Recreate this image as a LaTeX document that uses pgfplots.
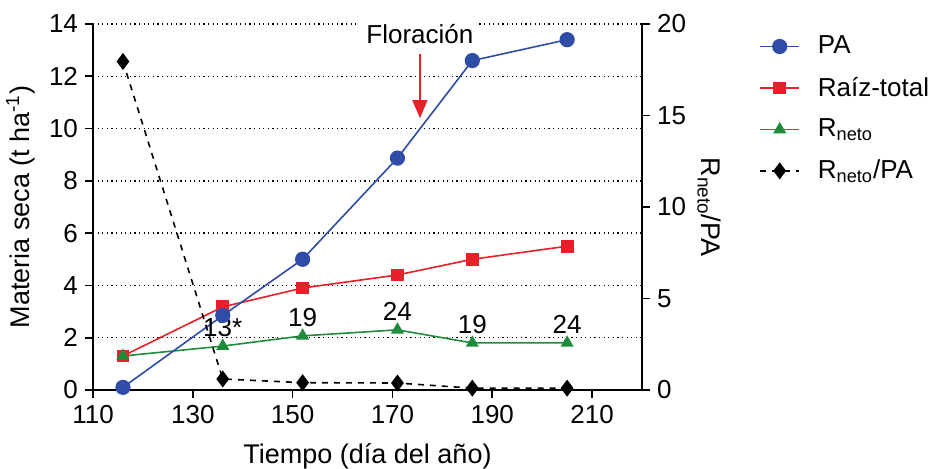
\documentclass[border=0pt]{standalone}
\usepackage{fontspec}
\setmainfont{Liberation Sans}
\usepackage{pgfplots}
\pgfplotsset{compat=1.18}
\usetikzlibrary{arrows.meta}
\definecolor{cPA}{HTML}{2F4DA6}
\definecolor{cRaiz}{HTML}{E8202A}
\definecolor{cRn}{HTML}{1F8C3B}

\begin{document}
\begin{tikzpicture}[font=\fontsize{13}{15}\selectfont]
\useasboundingbox (-46.5pt,-39.5pt) rectangle (420.5pt,195pt);
\pgfplotsset{
  every axis/.append style={
    at={(0,0)}, anchor=south west,
    width=274.5pt, height=183pt, scale only axis,
    xmin=110, xmax=220,
    tick align=outside, major tick length=4pt,
    tick style={black, line width=0.8pt},
    axis line style={line width=0.8pt},
    /pgf/number format/assume math mode=true,
    tick label style={font=\fontsize{13}{15}\selectfont},
    label style={font=\fontsize{13.5}{16}\selectfont},
  }
}
\begin{axis}[
  axis x line*=bottom, axis y line*=left,
  ymin=0, ymax=14, ytick={0,2,...,14},
  xtick={110,130,...,210},
  ymajorgrids,
  grid style={black, line width=0.75pt, dash pattern=on 0.6pt off 1.7pt},
  xlabel={Tiempo (día del año)},
  xlabel style={yshift=-3pt},
  ylabel={Materia seca (t ha\textsuperscript{-1})},
  clip=false,
]
% Floracion
\node[fill=white, inner sep=3pt] at (axis cs:175.5,13.62) {Floración};
\draw[cRaiz, line width=0.8pt, -{Triangle[width=7.5pt, length=9pt]}]
  (axis cs:175.5,12.85) -- (axis cs:175.5,10.4);

\addplot[cRaiz, line width=0.8pt, mark=square*, mark size=2.8pt] coordinates {
  (116,1.3) (136,3.18) (152,3.9) (171,4.4) (186,5.0) (205,5.5)
};
\addplot[cRn, line width=0.8pt, mark=triangle*, mark size=3pt,
  nodes near coords, point meta=explicit symbolic,
  nodes near coords style={black, font=\fontsize{13}{15}\selectfont, anchor=south, yshift=1pt}]
  coordinates {
  (116,1.3) [] (136,1.68) [13*] (152,2.07) [19] (171,2.3) [24] (186,1.8) [19] (205,1.8) [24]
};
\addplot[cPA, line width=0.8pt, mark=*, mark size=3.4pt] coordinates {
  (116,0.1) (136,2.85) (152,5.0) (171,8.87) (186,12.6) (205,13.4)
};
\end{axis}

\begin{axis}[
  axis y line*=right, axis x line=none,
  ymin=0, ymax=20, ytick={0,5,...,20},
  clip=false,
  legend style={draw=none, fill=none, at={(1.2025,0.99)}, anchor=north west,
    font=\fontsize{13}{15}\selectfont, row sep=6pt, column sep=7pt},
  legend cell align=left,
  legend image code/.code={
    \draw[mark repeat=2, mark phase=2, #1] plot coordinates {(0cm,0cm) (0.34cm,0cm) (0.68cm,0cm)};
  },
]
\node[rotate=-90, font=\fontsize{13.5}{16}\selectfont] at (axis description cs:1.123,0.5) {R\textsubscript{neto}/PA};
\addlegendimage{cPA, line width=0.8pt, mark=*, mark size=3.4pt}
\addlegendentry{PA}
\addlegendimage{cRaiz, line width=0.8pt, mark=square*, mark size=2.8pt}
\addlegendentry{Raíz-total}
\addlegendimage{cRn, line width=0.8pt, mark=triangle*, mark size=3pt}
\addlegendentry{R\textsubscript{neto}}
\addplot[black, line width=0.8pt, dashed, mark=diamond*, mark size=3.6pt,
  mark options={solid}] coordinates {
  (116,17.95) (136,0.6) (152,0.4) (171,0.38) (186,0.1) (205,0.1)
};
\addlegendentry{R\textsubscript{neto}/PA}
\end{axis}
\end{tikzpicture}
\end{document}
